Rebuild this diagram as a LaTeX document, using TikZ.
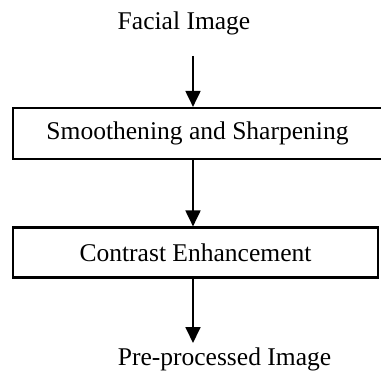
\documentclass[tikz,border=0pt]{standalone}
\usepackage{fontspec}
\setmainfont{Liberation Serif}
\usetikzlibrary{arrows.meta}
\begin{document}
\begin{tikzpicture}[x=0.47pt,y=-0.47pt,
  txt/.style={font=\fontsize{12}{14}\selectfont, inner sep=0pt},
  stage/.style={draw, line width=1pt, font=\fontsize{12}{14}\selectfont, inner sep=0pt},
  flow/.style={line width=1pt, -{Triangle[length=7.5pt,width=7pt]}}]
\useasboundingbox (0,0) rectangle (381,374);
\node[txt] (fi) at (184,23) {Facial Image};
\node[stage, minimum width=369*0.47pt, minimum height=51*0.47pt] (b1) at (197.5,133.5) {Smoothening and Sharpening};
\node[stage, minimum width=365*0.47pt, minimum height=50*0.47pt] (b2) at (195.5,252.5) {Contrast Enhancement};
\node[txt] (pi) at (224.5,359) {Pre-processed Image};
\coordinate (s1) at (193,56);
\coordinate (e3) at (193,343);
\draw[flow] (s1) -- (s1 |- b1.north);
\draw[flow] (s1 |- b1.south) -- (s1 |- b2.north);
\draw[flow] (s1 |- b2.south) -- (e3);
\end{tikzpicture}
\end{document}
